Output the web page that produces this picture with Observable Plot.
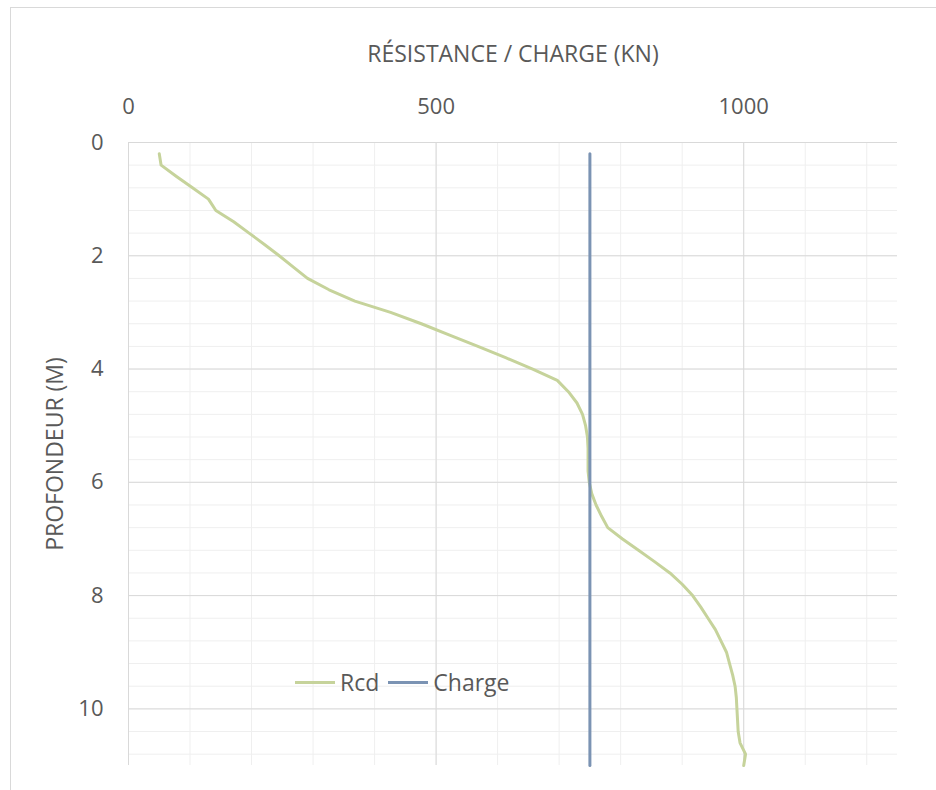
<!DOCTYPE html>
<html>
<head>
<meta charset="utf-8">
<script src="https://cdn.jsdelivr.net/npm/d3@7"></script>
<script src="https://cdn.jsdelivr.net/npm/@observablehq/plot@0.6"></script>
<style>
  html, body { margin: 0; padding: 0; background: #fff; }
  #wrap { position: relative; width: 936px; height: 790px; overflow: hidden; font-family: "Open Sans", "Noto Sans", sans-serif; }
  #border { position: absolute; left: 10px; top: 7px; width: 940px; height: 800px; border: 1px solid #d9d9d9; }
  #chart { position: absolute; left: 0; top: 0; }
  #chart svg text { fill: #595959; }
  #chart svg [aria-label="x-axis tick label"] text,
  #chart svg [aria-label="y-axis tick label"] text { font-size: 22px; }
  #chart svg [aria-label="x-axis label"] text,
  #chart svg [aria-label="y-axis label"] text { font-size: 23px; }
  #legend { position: absolute; left: 295px; top: 666px; display: flex; align-items: center; font-size: 23px; color: #595959; }
  .sw { display: inline-block; width: 40px; height: 3px; margin-right: 5px; }
  .item { display: flex; align-items: center; margin-right: 9px; }
</style>
</head>
<body>
<div id="wrap">
  <div id="border"></div>
  <div id="chart"></div>
  <div id="legend"></div>
</div>
<script>
// Depth (m) and pile resistance Rcd (kN)
const depth = [0.2, 0.4, 0.6, 0.8, 1.0, 1.2, 1.4, 1.6, 1.8, 2.0, 2.2, 2.4, 2.6, 2.8, 3.0, 3.2, 3.4, 3.6, 3.8, 4.0,
  4.2, 4.4, 4.6, 4.8, 5.0, 5.2, 5.4, 5.6, 5.8, 6.0, 6.2, 6.4, 6.6, 6.8, 7.0, 7.2, 7.4, 7.6, 7.8, 8.0,
  8.2, 8.4, 8.6, 8.8, 9.0, 9.2, 9.4, 9.6, 9.8, 10.0, 10.2, 10.4, 10.6, 10.8, 11.0];
const rcd = [50, 53, 78, 104, 130, 142, 171, 196, 221, 245, 268, 291, 326, 368, 426, 476, 522, 568, 613, 657,
  697, 715, 729, 738, 743, 746, 747, 747, 747, 749, 753, 760, 769, 779, 803, 829, 855, 880, 900, 917,
  930, 942, 954, 963, 972, 977, 982, 986, 988, 989, 990, 991, 994, 1003, 1000];

// Applied load (kN) over the pile length
const chargeDepth = [0.2, 11.0];
const chargeValue = [750, 750];

const xTicks = [0, 500, 1000];
const yTicks = [0, 2, 4, 6, 8, 10];
const xMinor = d3.range(0, 13).map(i => i * 100);
const yMinor = d3.range(0, 28).map(i => +(i * 0.4).toFixed(1));

const series = [
  { name: "Rcd", color: "#c6d39b" },
  { name: "Charge", color: "#7b93b3" }
];

const rcdData = depth.map((d, i) => ({ depth: d, value: rcd[i] }));
const chargeData = chargeDepth.map((d, i) => ({ depth: d, value: chargeValue[i] }));

const chart = Plot.plot({
  width: 936,
  height: 790,
  marginLeft: 128,
  marginRight: 39,
  marginTop: 142,
  marginBottom: 25,
  style: { fontFamily: "'Open Sans', 'Noto Sans', sans-serif", fontSize: "20px", color: "#595959", background: "transparent" },
  x: { domain: [0, 1250] },
  y: { domain: [0, 11], reverse: true },
  marks: [
    Plot.gridX(xMinor, { stroke: "#efefef", strokeOpacity: 1, strokeWidth: 1 }),
    Plot.gridY(yMinor, { stroke: "#efefef", strokeOpacity: 1, strokeWidth: 1 }),
    Plot.gridX(xTicks, { stroke: "#d9d9d9", strokeOpacity: 1, strokeWidth: 1 }),
    Plot.gridY(yTicks, { stroke: "#d9d9d9", strokeOpacity: 1, strokeWidth: 1 }),
    Plot.axisX(xTicks, {
      anchor: "top", tickSize: 0, tickPadding: 29, tickFormat: d => String(d),
      label: "RÉSISTANCE / CHARGE (KN)", labelAnchor: "center", labelArrow: "none", labelOffset: 97
    }),
    Plot.axisY(yTicks, {
      anchor: "left", tickSize: 0, tickPadding: 25, tickFormat: d => String(d),
      label: "PROFONDEUR (M)", labelAnchor: "center", labelArrow: "none", labelOffset: 82
    }),
    Plot.line(rcdData, { x: "value", y: "depth", stroke: series[0].color, strokeWidth: 3 }),
    Plot.line(chargeData, { x: "value", y: "depth", stroke: series[1].color, strokeWidth: 3 })
  ]
});
document.getElementById("chart").appendChild(chart);

const legend = document.getElementById("legend");
for (const s of series) {
  const item = document.createElement("span");
  item.className = "item";
  const sw = document.createElement("span");
  sw.className = "sw";
  sw.style.background = s.color;
  item.appendChild(sw);
  item.appendChild(document.createTextNode(s.name));
  legend.appendChild(item);
}
</script>
</body>
</html>
